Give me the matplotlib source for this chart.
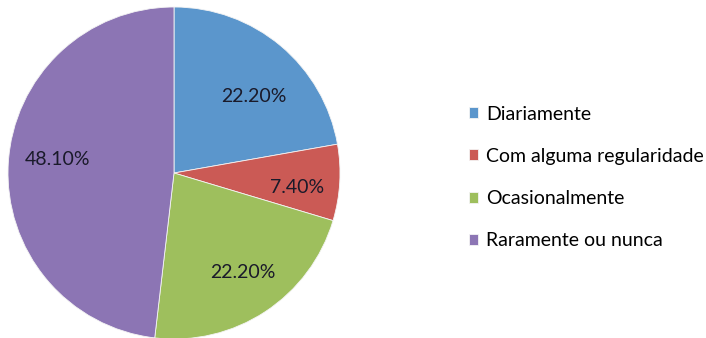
import matplotlib.pyplot as plt

categories = ['Diariamente', 'Com alguma regularidade', 'Ocasionalmente', 'Raramente ou nunca']
values = [22.2, 7.4, 22.2, 48.1]
colors = ['#5B96CC', '#CB5A55', '#9EBF5D', '#8C75B4']

total = sum(values)

fig = plt.figure(figsize=(7.06, 3.38), dpi=100)
ax = fig.add_axes([8 / 706, -1 / 338, 332 / 706, 332 / 338])

wedges, texts, autotexts = ax.pie(
    values,
    colors=colors,
    startangle=90,
    counterclock=False,
    autopct=lambda p: f"{p * total / 100:.2f}%",
    pctdistance=0.72,
    wedgeprops=dict(edgecolor='#f4f4f4', linewidth=0.6),
    textprops=dict(fontsize=14, color='#1a1a2a', family='Lato'),
)
ax.set_xlim(-1, 1)
ax.set_ylim(-1, 1)
ax.set_aspect('equal')

# nudge the percentage labels to the spots a spreadsheet "best fit" would use
label_spots = [(0.48, 0.46), (0.74, -0.085), (0.415, -0.60), (-0.70, 0.08)]
for t, xy in zip(autotexts, label_spots):
    t.set_position(xy)

fig.legend(
    wedges, categories,
    loc='upper left', bbox_to_anchor=(451 / 706, 1 - 88 / 338),
    frameon=False,
    prop=dict(family='Lato', size=14),
    handlelength=0.5, handleheight=0.5, handletextpad=0.4,
    labelspacing=1.3,
)

fig.savefig('out.png', dpi=100)
